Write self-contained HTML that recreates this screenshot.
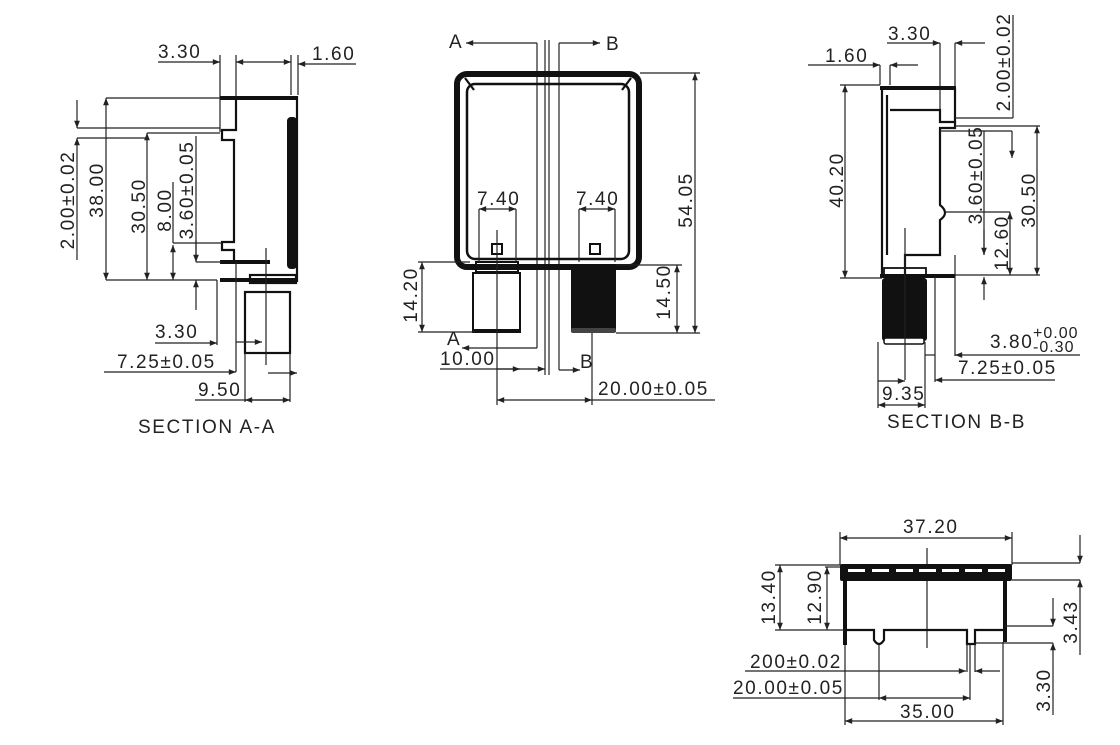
<!DOCTYPE html>
<html><head><meta charset="utf-8"><style>
html,body{margin:0;padding:0;background:#fff;}
svg{display:block;}
text{font-family:"Liberation Sans",sans-serif;font-size:19px;letter-spacing:1.6px;fill:#222;}
.l{stroke:#222;stroke-width:1.2;fill:none;}
.t{stroke:#111;stroke-width:4;fill:none;}
.m{stroke:#111;stroke-width:2.2;fill:none;}
</style></head><body>
<svg width="1120" height="745" viewBox="0 0 1120 745" xmlns="http://www.w3.org/2000/svg">
<defs><marker id="a" viewBox="0 0 10 10" refX="10" refY="5" markerWidth="9" markerHeight="6" orient="auto-start-reverse"><path d="M0,1 L10,5 L0,9z" fill="#222"/></marker></defs>

<!-- SECTION A-A -->
<g>
<text x="158" y="58">3.30</text>
<line class="l" x1="158" y1="62" x2="220" y2="62" marker-end="url(#a)"/>
<line class="l" x1="236" y1="62" x2="291" y2="62" marker-start="url(#a)" marker-end="url(#a)"/>
<text x="312" y="60">1.60</text>
<line class="l" x1="356" y1="64" x2="298" y2="64" marker-end="url(#a)"/>
<line class="l" x1="220" y1="55" x2="220" y2="132"/>
<line class="l" x1="236" y1="55" x2="236" y2="130"/>
<line class="l" x1="291" y1="55" x2="291" y2="95"/>
<line class="l" x1="298" y1="55" x2="298" y2="95"/>
<line class="t" x1="220" y1="98" x2="298" y2="98"/>
<line class="m" x1="297" y1="96" x2="297" y2="282"/>
<rect x="287" y="117" width="10" height="152" rx="4" fill="#111"/>
<path class="m" d="M236,98 V130 H222 V140 H234 V242 H222 V250 H234 V262 H220"/>
<line class="t" x1="220" y1="262" x2="270" y2="262"/>
<line class="t" x1="220" y1="280" x2="296" y2="280"/>
<rect class="m" x="250" y="275" width="46" height="8"/>
<rect class="m" x="245" y="292" width="45" height="61"/>
<line class="l" x1="266" y1="248" x2="266" y2="365"/>
<line class="l" x1="236" y1="262" x2="236" y2="372"/>
<line class="l" x1="217" y1="280" x2="217" y2="345"/>
<line class="l" x1="106" y1="98" x2="220" y2="98"/>
<line class="l" x1="106" y1="280" x2="217" y2="280"/>
<line class="l" x1="106" y1="98" x2="106" y2="280" marker-start="url(#a)" marker-end="url(#a)"/>
<text transform="translate(103,190) rotate(-90)" text-anchor="middle">38.00</text>
<line class="l" x1="77" y1="128" x2="220" y2="128"/>
<line class="l" x1="77" y1="100" x2="77" y2="128" marker-end="url(#a)"/>
<line class="l" x1="77" y1="260" x2="77" y2="138" marker-end="url(#a)"/>
<line class="l" x1="77" y1="138" x2="148" y2="138"/>
<text transform="translate(74,200) rotate(-90)" text-anchor="middle">2.00±0.02</text>
<line class="l" x1="147" y1="133" x2="220" y2="133"/>
<line class="l" x1="147" y1="133" x2="147" y2="280" marker-start="url(#a)" marker-end="url(#a)"/>
<text transform="translate(145,206) rotate(-90)" text-anchor="middle">30.50</text>
<line class="l" x1="173" y1="182" x2="173" y2="243"/>
<line class="l" x1="173" y1="243" x2="222" y2="243"/>
<line class="l" x1="173" y1="245" x2="173" y2="280" marker-start="url(#a)" marker-end="url(#a)"/>
<text transform="translate(171,210) rotate(-90)" text-anchor="middle">8.00</text>
<line class="l" x1="196" y1="136" x2="196" y2="262"/>
<line class="l" x1="196" y1="262" x2="222" y2="262"/>
<line class="l" x1="196" y1="240" x2="196" y2="262" marker-end="url(#a)"/>
<line class="l" x1="196" y1="310" x2="196" y2="280" marker-end="url(#a)"/>
<text transform="translate(193,190) rotate(-90)" text-anchor="middle">3.60±0.05</text>
<text x="155" y="338">3.30</text>
<line class="l" x1="155" y1="343" x2="217" y2="343" marker-end="url(#a)"/>
<text x="117" y="368">7.25±0.05</text>
<line class="l" x1="104" y1="372" x2="236" y2="372" marker-end="url(#a)"/>
<line class="l" x1="236" y1="342" x2="262" y2="342" marker-end="url(#a)"/>
<text x="198" y="396">9.50</text>
<line class="l" x1="195" y1="400" x2="290" y2="400"/>
<line class="l" x1="245" y1="353" x2="245" y2="402"/>
<line class="l" x1="290" y1="353" x2="290" y2="402"/>
<line class="l" x1="245" y1="400" x2="290" y2="400" marker-start="url(#a)" marker-end="url(#a)"/>
<line class="l" x1="268" y1="373" x2="297" y2="373" marker-end="url(#a)"/>
<text x="138" y="433">SECTION A-A</text>
</g>

<!-- MIDDLE VIEW -->
<g>
<text x="449" y="48">A</text>
<line class="l" x1="537" y1="43" x2="466" y2="43" marker-end="url(#a)"/>
<line class="l" x1="559" y1="43" x2="600" y2="43" marker-end="url(#a)"/>
<text x="606" y="50">B</text>
<line class="l" x1="537" y1="43" x2="537" y2="348"/>
<line class="l" x1="559" y1="43" x2="559" y2="370"/>
<line class="l" x1="545" y1="40" x2="545" y2="375"/>
<line class="l" x1="549" y1="40" x2="549" y2="375"/>
<rect x="457" y="74" width="182" height="193" rx="10" fill="none" stroke="#111" stroke-width="6"/>
<rect x="467" y="84" width="162" height="175" rx="8" fill="none" stroke="#111" stroke-width="2.5"/>
<line class="m" x1="465" y1="78" x2="474" y2="90"/>
<line class="m" x1="631" y1="78" x2="622" y2="90"/>
<rect x="492" y="244" width="10" height="10" fill="none" stroke="#111" stroke-width="2"/>
<rect x="590" y="244" width="10" height="10" fill="none" stroke="#111" stroke-width="2"/>
<rect x="476" y="262" width="42" height="10" fill="none" stroke="#111" stroke-width="2"/>
<rect x="473" y="273" width="47" height="59" fill="none" stroke="#111" stroke-width="2"/>
<line class="t" x1="473" y1="331" x2="520" y2="331"/>
<rect x="571" y="266" width="45" height="66" fill="#111"/>
<rect x="571" y="328" width="45" height="5" rx="2" fill="#444"/>
<line class="l" x1="497" y1="230" x2="497" y2="405"/>
<line class="l" x1="592" y1="333" x2="592" y2="405"/>
<text x="477" y="205">7.40</text>
<text x="576" y="205">7.40</text>
<line class="l" x1="479" y1="209" x2="479" y2="262"/>
<line class="l" x1="516" y1="209" x2="516" y2="262"/>
<line class="l" x1="579" y1="209" x2="579" y2="262"/>
<line class="l" x1="615" y1="209" x2="615" y2="262"/>
<line class="l" x1="479" y1="209" x2="516" y2="209" marker-start="url(#a)" marker-end="url(#a)"/>
<line class="l" x1="579" y1="209" x2="615" y2="209" marker-start="url(#a)" marker-end="url(#a)"/>
<line class="l" x1="640" y1="73" x2="700" y2="73"/>
<line class="l" x1="616" y1="333" x2="700" y2="333"/>
<line class="l" x1="695" y1="73" x2="695" y2="333" marker-start="url(#a)" marker-end="url(#a)"/>
<text transform="translate(692,200) rotate(-90)" text-anchor="middle">54.05</text>
<line class="l" x1="616" y1="265" x2="682" y2="265"/>
<line class="l" x1="677" y1="265" x2="677" y2="333" marker-start="url(#a)" marker-end="url(#a)"/>
<text transform="translate(670,292) rotate(-90)" text-anchor="middle">14.50</text>
<line class="l" x1="418" y1="262" x2="470" y2="262"/>
<line class="l" x1="418" y1="332" x2="475" y2="332"/>
<line class="l" x1="422" y1="262" x2="422" y2="332" marker-start="url(#a)" marker-end="url(#a)"/>
<text transform="translate(417,295) rotate(-90)" text-anchor="middle">14.20</text>
<text x="447" y="345">A</text>
<line class="l" x1="537" y1="348" x2="462" y2="348" marker-end="url(#a)"/>
<text x="440" y="365">10.00</text>
<line class="l" x1="440" y1="369" x2="545" y2="369" marker-end="url(#a)"/>
<line class="l" x1="497" y1="369" x2="520" y2="369" marker-end="url(#a)"/>
<line class="l" x1="559" y1="370" x2="580" y2="370" marker-end="url(#a)"/>
<text x="580" y="368">B</text>
<text x="598" y="395">20.00±0.05</text>
<line class="l" x1="497" y1="400" x2="592" y2="400" marker-start="url(#a)" marker-end="url(#a)"/>
<line class="l" x1="592" y1="400" x2="715" y2="400"/>
</g>

<!-- SECTION B-B -->
<g>
<text x="888" y="40">3.30</text>
<line class="l" x1="887" y1="43" x2="940" y2="43" marker-end="url(#a)"/>
<line class="l" x1="985" y1="43" x2="955" y2="43" marker-end="url(#a)"/>
<line class="l" x1="940" y1="43" x2="940" y2="120"/>
<line class="l" x1="955" y1="43" x2="955" y2="90"/>
<text x="825" y="62">1.60</text>
<line class="l" x1="808" y1="65" x2="880" y2="65" marker-end="url(#a)"/>
<line class="l" x1="918" y1="65" x2="890" y2="65" marker-end="url(#a)"/>
<line class="l" x1="880" y1="65" x2="880" y2="85"/>
<line class="l" x1="890" y1="65" x2="890" y2="85"/>
<line class="t" x1="880" y1="88" x2="956" y2="88"/>
<path class="m" d="M882,86 V278 M887,95 V255 M890,110 H940 V122 H955 V88"/>
<path class="m" d="M955,122 V128 H940 V205 Q950,213 940,220 V255 H905 V275"/>
<line class="t" x1="880" y1="276" x2="955" y2="276"/>
<rect x="884" y="268" width="42" height="8" fill="none" stroke="#111" stroke-width="1.8"/>
<rect x="882" y="278" width="45" height="63" rx="3" fill="#111"/>
<rect x="884" y="338" width="40" height="6" rx="2" fill="#fff" stroke="#111" stroke-width="1.5"/>
<line class="l" x1="905" y1="228" x2="905" y2="380"/>
<line class="l" x1="840" y1="85" x2="880" y2="85"/>
<line class="l" x1="840" y1="278" x2="882" y2="278"/>
<line class="l" x1="845" y1="85" x2="845" y2="278" marker-start="url(#a)" marker-end="url(#a)"/>
<text transform="translate(843,180) rotate(-90)" text-anchor="middle">40.20</text>
<line class="l" x1="1013" y1="15" x2="1013" y2="118"/>
<line class="l" x1="955" y1="118" x2="1013" y2="118"/>
<text transform="translate(1010,62) rotate(-90)" text-anchor="middle">2.00±0.02</text>
<line class="l" x1="955" y1="126" x2="1040" y2="126"/>
<line class="l" x1="1037" y1="126" x2="1037" y2="275" marker-start="url(#a)" marker-end="url(#a)"/>
<line class="l" x1="955" y1="275" x2="1040" y2="275"/>
<text transform="translate(1035,200) rotate(-90)" text-anchor="middle">30.50</text>
<line class="l" x1="940" y1="131" x2="1012" y2="131"/>
<line class="l" x1="1012" y1="131" x2="1012" y2="158" marker-end="url(#a)"/>
<text transform="translate(982,175) rotate(-90)" text-anchor="middle">3.60±0.05</text>
<line class="l" x1="984" y1="131" x2="984" y2="255"/>
<line class="l" x1="984" y1="230" x2="984" y2="255" marker-end="url(#a)"/>
<line class="l" x1="984" y1="300" x2="984" y2="277" marker-end="url(#a)"/>
<line class="l" x1="945" y1="212" x2="1010" y2="212"/>
<line class="l" x1="1010" y1="212" x2="1010" y2="275" marker-start="url(#a)" marker-end="url(#a)"/>
<text transform="translate(1008,243) rotate(-90)" text-anchor="middle">12.60</text>
<line class="l" x1="955" y1="255" x2="955" y2="356"/>
<line class="l" x1="1080" y1="355" x2="955" y2="355" marker-end="url(#a)"/>
<text x="990" y="348">3.80</text>
<text x="1033" y="338" style="font-size:16px;letter-spacing:1px">+0.00</text>
<text x="1033" y="352" style="font-size:16px;letter-spacing:1px">-0.30</text>
<line class="l" x1="935" y1="276" x2="935" y2="382"/>
<line class="l" x1="1055" y1="380" x2="935" y2="380" marker-end="url(#a)"/>
<text x="958" y="374">7.25±0.05</text>
<line class="l" x1="878" y1="342" x2="878" y2="408"/>
<line class="l" x1="925" y1="342" x2="925" y2="408"/>
<line class="l" x1="878" y1="381" x2="905" y2="381" marker-end="url(#a)"/>
<line class="l" x1="935" y1="355" x2="925" y2="355"/>
<text x="882" y="400">9.35</text>
<line class="l" x1="878" y1="405" x2="925" y2="405" marker-start="url(#a)" marker-end="url(#a)"/>
<text x="887" y="428">SECTION B-B</text>
</g>

<!-- BOTTOM VIEW -->
<g>
<text x="903" y="533">37.20</text>
<line class="l" x1="840" y1="538" x2="1012" y2="538" marker-start="url(#a)" marker-end="url(#a)"/>
<line class="l" x1="840" y1="532" x2="840" y2="565"/>
<line class="l" x1="1012" y1="532" x2="1012" y2="565"/>
<line class="l" x1="927" y1="548" x2="927" y2="648"/>
<rect x="840" y="564" width="172" height="17" rx="2" fill="#111"/>
<g fill="#fff">
<rect x="848" y="569" width="17" height="3"/><rect x="872" y="569" width="17" height="3"/>
<rect x="896" y="569" width="17" height="3"/><rect x="919" y="569" width="17" height="3"/>
<rect x="942" y="569" width="17" height="3"/><rect x="965" y="569" width="17" height="3"/>
<rect x="988" y="569" width="17" height="3"/>
</g>
<line class="t" x1="845" y1="578" x2="845" y2="645"/>
<line class="t" x1="1005" y1="578" x2="1005" y2="642"/>
<path class="m" d="M845,630 H874 V640 Q879,648 884,640 V630 H967 V644 H975 V630 H1005"/>
<line class="l" x1="775" y1="565" x2="840" y2="565"/>
<line class="l" x1="775" y1="630" x2="845" y2="630"/>
<line class="l" x1="780" y1="565" x2="780" y2="630" marker-start="url(#a)" marker-end="url(#a)"/>
<text transform="translate(775,597) rotate(-90)" text-anchor="middle">13.40</text>
<line class="l" x1="825" y1="567" x2="840" y2="567"/>
<line class="l" x1="827" y1="567" x2="827" y2="630" marker-start="url(#a)" marker-end="url(#a)"/>
<text transform="translate(821,597) rotate(-90)" text-anchor="middle">12.90</text>
<line class="l" x1="1012" y1="563" x2="1080" y2="563"/>
<line class="l" x1="1080" y1="535" x2="1080" y2="563" marker-end="url(#a)"/>
<line class="l" x1="1012" y1="580" x2="1080" y2="580"/>
<line class="l" x1="1080" y1="655" x2="1080" y2="580" marker-end="url(#a)"/>
<line class="l" x1="1005" y1="626" x2="1053" y2="626"/>
<line class="l" x1="1053" y1="598" x2="1053" y2="626" marker-end="url(#a)"/>
<text transform="translate(1077,622) rotate(-90)" text-anchor="middle">3.43</text>
<line class="l" x1="975" y1="643" x2="1053" y2="643"/>
<line class="l" x1="1053" y1="715" x2="1053" y2="643" marker-end="url(#a)"/>
<text transform="translate(1050,690) rotate(-90)" text-anchor="middle">3.30</text>
<text x="750" y="668">200±0.02</text>
<line class="l" x1="745" y1="671" x2="966" y2="671" marker-end="url(#a)"/>
<line class="l" x1="1000" y1="671" x2="975" y2="671" marker-end="url(#a)"/>
<line class="l" x1="967" y1="644" x2="967" y2="672"/>
<line class="l" x1="975" y1="644" x2="975" y2="672"/>
<text x="733" y="694">20.00±0.05</text>
<line class="l" x1="733" y1="698" x2="879" y2="698"/>
<line class="l" x1="879" y1="698" x2="970" y2="698" marker-start="url(#a)" marker-end="url(#a)"/>
<line class="l" x1="879" y1="645" x2="879" y2="700"/>
<line class="l" x1="970" y1="644" x2="970" y2="700"/>
<text x="900" y="718">35.00</text>
<line class="l" x1="845" y1="645" x2="845" y2="725"/>
<line class="l" x1="1003" y1="642" x2="1003" y2="725"/>
<line class="l" x1="845" y1="721" x2="1003" y2="721" marker-start="url(#a)" marker-end="url(#a)"/>
</g>
</svg>
</body></html>
